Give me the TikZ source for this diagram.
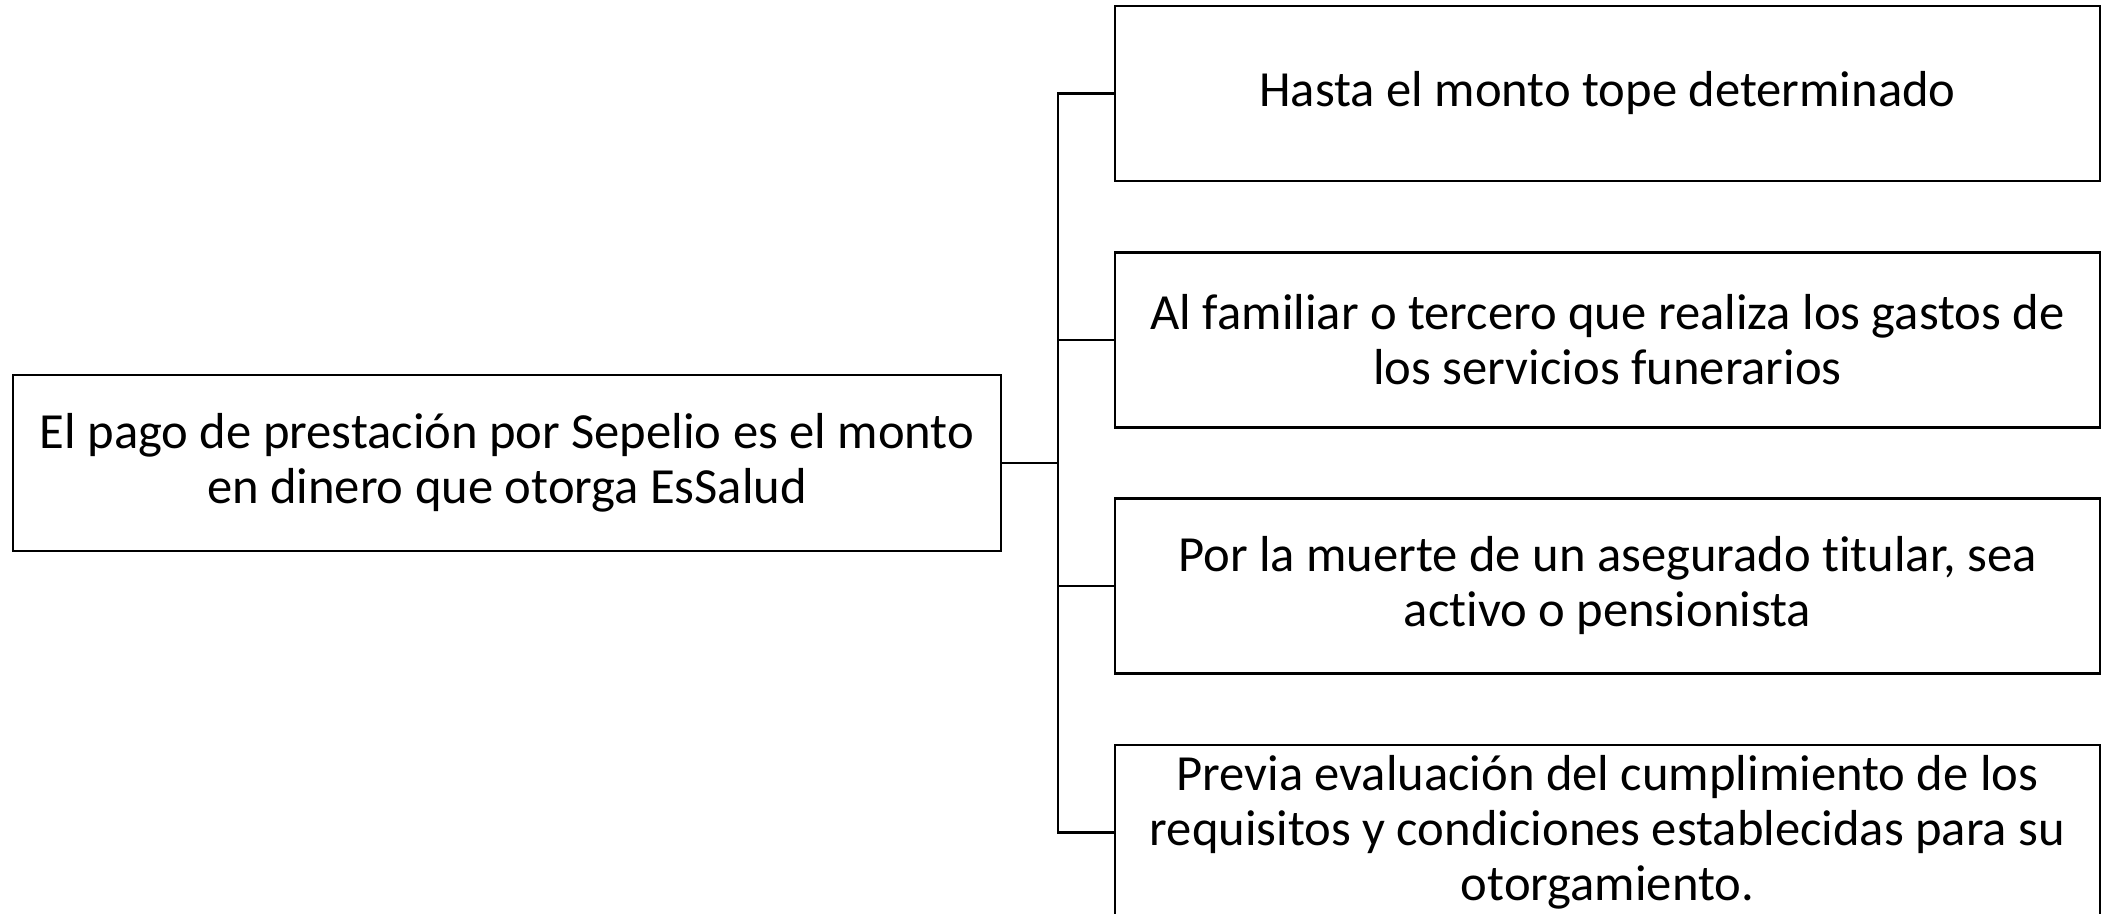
\documentclass[tikz,border=0pt]{standalone}
\usepackage{fontspec}
\setmainfont[RawFeature=-liga]{Carlito}
\begin{document}
\begin{tikzpicture}[x=0.5pt,y=-0.5pt,
  box/.style={draw=black,line width=1.3pt,rectangle,align=center,inner sep=0pt,
    font=\fontsize{25.3}{27.5}\selectfont},
  lbox/.style={box,minimum width=494pt,minimum height=88pt},
  rbox/.style={box,minimum width=492.5pt,minimum height=87.5pt},
  conn/.style={draw=black,line width=1.3pt}]
\useasboundingbox (0,0) rectangle (2102,914);
\clip (0,0) rectangle (2102,914);
\node[lbox] (L) at (507,463) {El pago de prestación por Sepelio es el monto\\en dinero que otorga EsSalud};
\node[rbox] (R1) at (1607.5,93.5) {Hasta el monto tope determinado};
\node[rbox] (R2) at (1607.5,340) {Al familiar o tercero que realiza los gastos de\\los servicios funerarios};
\node[rbox] (R3) at (1607.5,586) {Por la muerte de un asegurado titular, sea\\activo o pensionista};
\node[rbox] (R4) at (1607.5,832.5) {Previa evaluación del cumplimiento de los\\requisitos y condiciones establecidas para su\\otorgamiento.};
\coordinate (B) at (1058,463);
\draw[conn] (L.east) -- (B);
\draw[conn] (B) |- (R1.west);
\draw[conn] (B) |- (R2.west);
\draw[conn] (B) |- (R3.west);
\draw[conn] (B) |- (R4.west);
\end{tikzpicture}
\end{document}
